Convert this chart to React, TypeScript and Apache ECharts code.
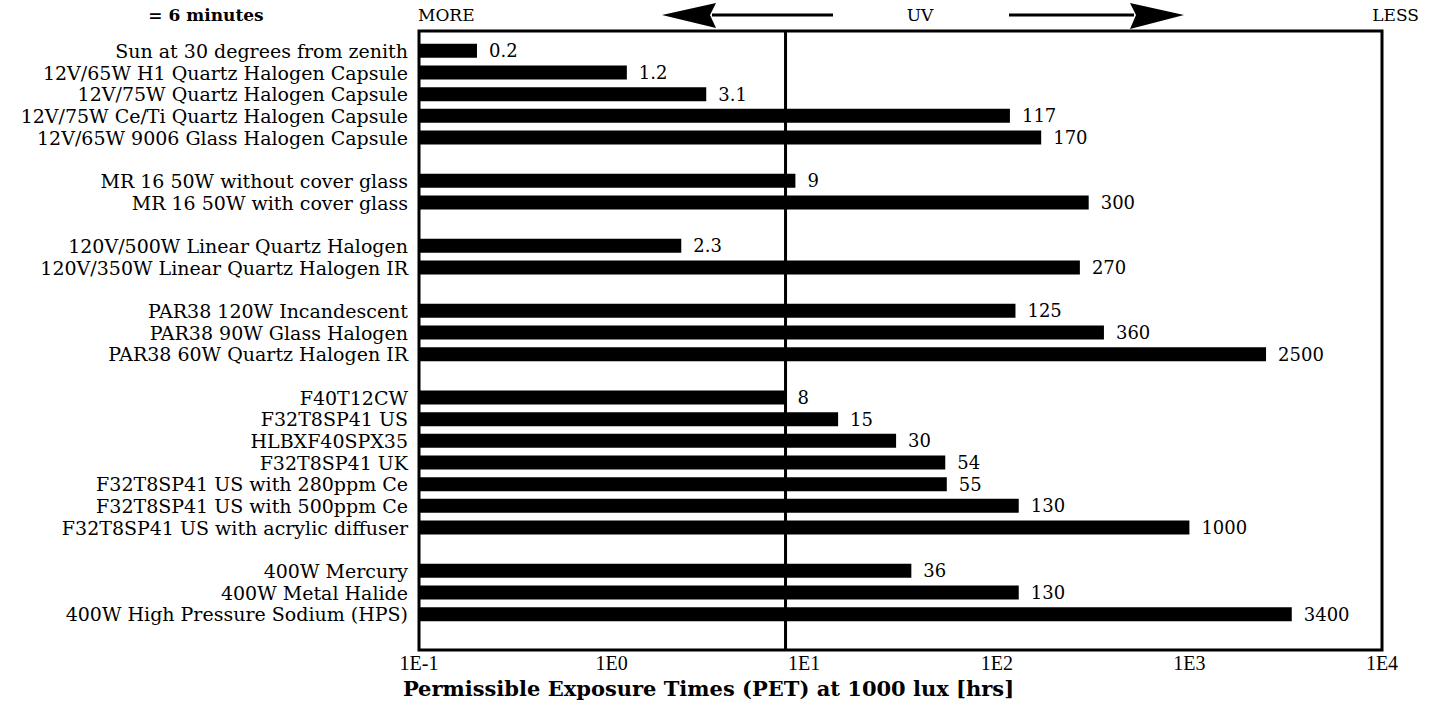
import React, { useEffect, useRef } from 'react';
import * as echarts from 'echarts';

const lampNames = [
  'Sun at 30 degrees from zenith',
  '12V/65W H1 Quartz Halogen Capsule',
  '12V/75W Quartz Halogen Capsule',
  '12V/75W Ce/Ti Quartz Halogen Capsule',
  '12V/65W 9006 Glass Halogen Capsule',
  'MR 16 50W without cover glass',
  'MR 16 50W with cover glass',
  '120V/500W Linear Quartz Halogen',
  '120V/350W Linear Quartz Halogen IR',
  'PAR38 120W Incandescent',
  'PAR38 90W Glass Halogen',
  'PAR38 60W Quartz Halogen IR',
  'F40T12CW',
  'F32T8SP41 US',
  'HLBXF40SPX35',
  'F32T8SP41 UK',
  'F32T8SP41 US with 280ppm Ce',
  'F32T8SP41 US with 500ppm Ce',
  'F32T8SP41 US with acrylic diffuser',
  '400W Mercury',
  '400W Metal Halide',
  '400W High Pressure Sodium (HPS)',
];

const petHours = [0.2, 1.2, 3.1, 117, 170, 9, 300, 2.3, 270, 125, 360, 2500, 8, 15, 30, 54, 55, 130, 1000, 36, 130, 3400];

const groupSizes = [5, 2, 2, 3, 7, 3];

const xTickLabels = ['1E-1', '1E0', '1E1', '1E2', '1E3', '1E4'];
const referenceLineHours = 8;
const topNote = '= 6 minutes';
const uvLabels = ['MORE', 'UV', 'LESS'];
const axisTitle = 'Permissible Exposure Times (PET) at 1000 lux [hrs]';

const SERIF = '"DejaVu Serif", "Liberation Serif", serif';

function buildRows() {
  const categories: string[] = [];
  const data: number[][] = [];
  let k = 0;
  groupSizes.forEach((n, g) => {
    if (g > 0) categories.push(' '.repeat(g));
    for (let i = 0; i < n; i++) {
      data.push([petHours[k], categories.length]);
      categories.push(lampNames[k]);
      k++;
    }
  });
  return { categories, data };
}

export default function App() {
  const ref = useRef<HTMLDivElement>(null);

  useEffect(() => {
    document.body.style.margin = '0';
    if (!ref.current) return;
    const chart = echarts.init(ref.current, null, { renderer: 'svg' });
    const { categories, data } = buildRows();

    const option: any = {
      animation: false,
      backgroundColor: '#fff',
      grid: [
        { left: 419, width: 963, top: 31, height: 619, show: true, borderColor: '#000', borderWidth: 3, backgroundColor: 'transparent', z: 3 },
        { left: 419, width: 963, top: 40, height: 585 },
      ],
      xAxis: [
        {
          type: 'log',
          gridIndex: 0,
          min: 0.1,
          max: 10000,
          logBase: 10,
          axisLine: { show: false },
          axisTick: { show: false },
          splitLine: { show: false },
          axisLabel: {
            margin: 3,
            color: '#000',
            fontFamily: '"Liberation Serif", serif',
            fontSize: 20,
            formatter: (v: number) => xTickLabels[Math.round(Math.log10(v)) + 1] ?? '',
          },
          name: axisTitle,
          nameLocation: 'middle',
          nameGap: 28,
          nameTextStyle: {
            color: '#000',
            fontFamily: SERIF,
            fontWeight: 'bold',
            fontSize: 21,
            padding: [0, 384, 0, 0],
          },
        },
        {
          type: 'log',
          gridIndex: 1,
          min: 0.1,
          max: 10000,
          logBase: 10,
          show: false,
        },
      ],
      yAxis: [
        { type: 'value', gridIndex: 0, min: 0, max: 1, show: false },
        {
          type: 'category',
          gridIndex: 1,
          inverse: true,
          data: categories,
          axisLine: { show: false },
          axisTick: { show: false },
          splitLine: { show: false },
          axisLabel: {
            margin: 11,
            color: '#000',
            fontFamily: SERIF,
            fontSize: 19,
            interval: 0,
          },
        },
      ],
      series: [
        {
          type: 'line',
          xAxisIndex: 0,
          yAxisIndex: 0,
          data: [[referenceLineHours, 0], [referenceLineHours, 1]],
          symbol: 'none',
          lineStyle: { color: '#000', width: 3 },
          z: 4,
        },
        {
          type: 'custom',
          xAxisIndex: 1,
          yAxisIndex: 1,
          encode: { x: 0, y: 1 },
          data,
          z: 5,
          renderItem: (params: any, api: any) => {
            const v = api.value(0) as number;
            const c = api.value(1) as number;
            const start = api.coord([0.1, c]);
            const end = api.coord([v, c]);
            const h = 14;
            return {
              type: 'group',
              children: [
                {
                  type: 'rect',
                  shape: { x: start[0], y: start[1] - h / 2, width: end[0] - start[0], height: h },
                  style: { fill: '#000' },
                },
                {
                  type: 'text',
                  x: end[0] + 12,
                  y: end[1],
                  style: {
                    text: String(v),
                    fill: '#000',
                    font: '18px "DejaVu Serif", serif',
                    align: 'left',
                    verticalAlign: 'middle',
                  },
                },
              ],
            };
          },
        },
      ],
      graphic: [
        { type: 'text', x: 206, y: 15, style: { text: topNote, fill: '#000', font: 'bold 17px "DejaVu Serif", serif', align: 'center', verticalAlign: 'middle' } },
        { type: 'text', x: 418, y: 15, style: { text: uvLabels[0], fill: '#000', font: '17px "DejaVu Serif", serif', align: 'left', verticalAlign: 'middle' } },
        { type: 'text', x: 920, y: 15, style: { text: uvLabels[1], fill: '#000', font: '17px "DejaVu Serif", serif', align: 'center', verticalAlign: 'middle' } },
        { type: 'text', x: 1419, y: 15, style: { text: uvLabels[2], fill: '#000', font: '17px "DejaVu Serif", serif', align: 'right', verticalAlign: 'middle' } },
        { type: 'line', shape: { x1: 712, y1: 15, x2: 833, y2: 15 }, style: { stroke: '#000', lineWidth: 3 } },
        { type: 'polygon', shape: { points: [[662, 15], [716, 3], [710, 15], [716, 28]] }, style: { fill: '#000' } },
        { type: 'line', shape: { x1: 1009, y1: 15, x2: 1134, y2: 15 }, style: { stroke: '#000', lineWidth: 3 } },
        { type: 'polygon', shape: { points: [[1184, 15], [1130, 3], [1136, 15], [1130, 29]] }, style: { fill: '#000' } },
      ],
    };

    chart.setOption(option);
    return () => chart.dispose();
  }, []);

  return <div ref={ref} style={{ width: 1431, height: 719 }} />;
}
